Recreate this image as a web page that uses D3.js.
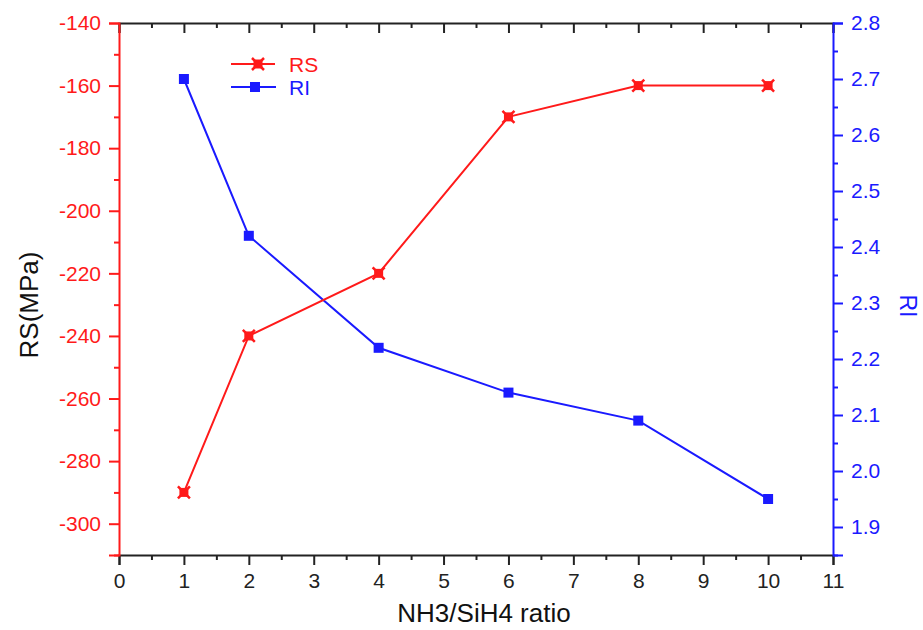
<!DOCTYPE html>
<html>
<head>
<meta charset="utf-8">
<script src="https://cdn.jsdelivr.net/npm/d3@7"></script>
<style>
  body { margin: 0; background: #fff; }
  text { font-family: "Liberation Sans", Arial, sans-serif; }
</style>
</head>
<body>
<div id="chart"></div>
<script>
// data
const ratio = [1, 2, 4, 6, 8, 10];
const rsValues = [-290, -240, -220, -170, -160, -160];
const riValues = [2.70, 2.42, 2.22, 2.14, 2.09, 1.95];
const xTicks = d3.range(0, 12, 1);
const rsTicks = d3.range(-300, -139, 20);
const riTicks = [1.9, 2.0, 2.1, 2.2, 2.3, 2.4, 2.5, 2.6, 2.7, 2.8];

const w = 923;
const h = 630;
const margin = { top: 23, right: 90, bottom: 75, left: 119 };
const width = w - margin.left - margin.right;
const height = h - margin.top - margin.bottom;

const red = "#ff1a1a";
const blue = "#1a1aff";

const svg = d3
  .select("#chart")
  .append("svg")
  .attr("width", w)
  .attr("height", h)
  .append("g")
  .attr("transform", `translate(${margin.left}, ${margin.top})`);

const x = d3.scaleLinear().domain([0, 11]).range([0, width]);
const yL = d3.scaleLinear().domain([-310, -140]).range([height, 0]);
const yR = d3.scaleLinear().domain([1.85, 2.8]).range([height, 0]);

// plain hyphen for negatives, like the original
const hyphen = (d) => String(d).replace("\u2212", "-");

function styleAxis(g, color) {
  g.selectAll("path").attr("stroke", color).attr("stroke-width", 2);
  g.selectAll("line").attr("stroke", color).attr("stroke-width", 2);
  g.selectAll("text").attr("fill", color).attr("font-size", 21);
}

// x axis (bottom)
const xMinor = svg.append("g").attr("transform", `translate(0, ${height})`)
  .call(d3.axisBottom(x).tickValues(d3.range(0.5, 11, 1)).tickSize(5).tickFormat(""));
styleAxis(xMinor, "#222");
xMinor.select("path").remove();
const xAx = svg.append("g").attr("transform", `translate(0, ${height})`)
  .call(d3.axisBottom(x).tickValues(xTicks).tickSize(10).tickPadding(8).tickFormat(d3.format("d")));
styleAxis(xAx, "#222");

// top axis, ticks inward, no labels
const tMinor = svg.append("g")
  .call(d3.axisBottom(x).tickValues(d3.range(0.5, 11, 1)).tickSize(5).tickFormat(""));
styleAxis(tMinor, "#222");
tMinor.select("path").remove();
const tAx = svg.append("g")
  .call(d3.axisBottom(x).tickValues(xTicks).tickSize(10).tickFormat(""));
styleAxis(tAx, "#222");

// left axis RS
const lMinor = svg.append("g")
  .call(d3.axisLeft(yL).tickValues(d3.range(-310, -139, 20)).tickSize(5).tickFormat(""));
styleAxis(lMinor, red);
lMinor.select("path").remove();
const lAx = svg.append("g")
  .call(d3.axisLeft(yL).tickValues(rsTicks).tickSize(10).tickPadding(8).tickFormat((d) => hyphen(d)));
styleAxis(lAx, red);

// right axis RI
const rMinor = svg.append("g").attr("transform", `translate(${width}, 0)`)
  .call(d3.axisRight(yR).tickValues([1.85, 1.95, 2.05, 2.15, 2.25, 2.35, 2.45, 2.55, 2.65, 2.75]).tickSize(5).tickFormat(""));
styleAxis(rMinor, blue);
rMinor.select("path").remove();
const rAx = svg.append("g").attr("transform", `translate(${width}, 0)`)
  .call(d3.axisRight(yR).tickValues(riTicks).tickSize(10).tickPadding(8).tickFormat(d3.format(".1f")));
styleAxis(rAx, blue);

// axis titles
svg.append("text")
  .attr("transform", `translate(${-81}, ${height / 2 + 16}) rotate(-90)`)
  .attr("text-anchor", "middle")
  .attr("font-size", 26)
  .attr("fill", "#111")
  .text("RS(MPa)");
svg.append("text")
  .attr("transform", `translate(${width + 67}, ${height / 2 + 17}) rotate(90)`)
  .attr("text-anchor", "middle")
  .attr("font-size", 23)
  .attr("fill", blue)
  .text("RI");
svg.append("text")
  .attr("x", width / 2 + 8)
  .attr("y", height + 67)
  .attr("text-anchor", "middle")
  .attr("font-size", 26)
  .attr("fill", "#111")
  .text("NH3/SiH4 ratio");

const rsData = ratio.map((d, i) => ({ x: d, y: rsValues[i] }));
const riData = ratio.map((d, i) => ({ x: d, y: riValues[i] }));

// RI line + square markers
svg.append("path")
  .datum(riData)
  .attr("fill", "none")
  .attr("stroke", blue)
  .attr("stroke-width", 2)
  .attr("d", d3.line().x((d) => x(d.x)).y((d) => yR(d.y)));
svg.selectAll(".ri-pt")
  .data(riData)
  .enter()
  .append("rect")
  .attr("class", "ri-pt")
  .attr("x", (d) => x(d.x) - 5)
  .attr("y", (d) => yR(d.y) - 5)
  .attr("width", 10)
  .attr("height", 10)
  .attr("fill", blue);

// RS line + star-square markers
svg.append("path")
  .datum(rsData)
  .attr("fill", "none")
  .attr("stroke", red)
  .attr("stroke-width", 2)
  .attr("d", d3.line().x((d) => x(d.x)).y((d) => yL(d.y)));

function rsMarker(g) {
  g.append("rect").attr("x", -4.5).attr("y", -4.5).attr("width", 9).attr("height", 9).attr("fill", red);
  g.append("path").attr("d", "M-6,-6L6,6M-6,6L6,-6").attr("stroke", red).attr("stroke-width", 2.5);
}
svg.selectAll(".rs-pt")
  .data(rsData)
  .enter()
  .append("g")
  .attr("class", "rs-pt")
  .attr("transform", (d) => `translate(${x(d.x)}, ${yL(d.y)})`)
  .each(function () { rsMarker(d3.select(this)); });

// legend
const leg = svg.append("g").attr("transform", "translate(112, 41)");
leg.append("line").attr("x1", 0).attr("x2", 44).attr("stroke", red).attr("stroke-width", 2);
rsMarker(leg.append("g").attr("transform", "translate(27, 0)"));
leg.append("text").attr("x", 58).attr("y", 8).attr("font-size", 21).attr("fill", red).text("RS");
leg.append("line").attr("x1", 0).attr("x2", 45).attr("y1", 23).attr("y2", 23).attr("stroke", blue).attr("stroke-width", 2);
leg.append("rect").attr("x", 19).attr("y", 18).attr("width", 10).attr("height", 10).attr("fill", blue);
leg.append("text").attr("x", 58).attr("y", 31).attr("font-size", 21).attr("fill", blue).text("RI");
</script>
</body>
</html>
